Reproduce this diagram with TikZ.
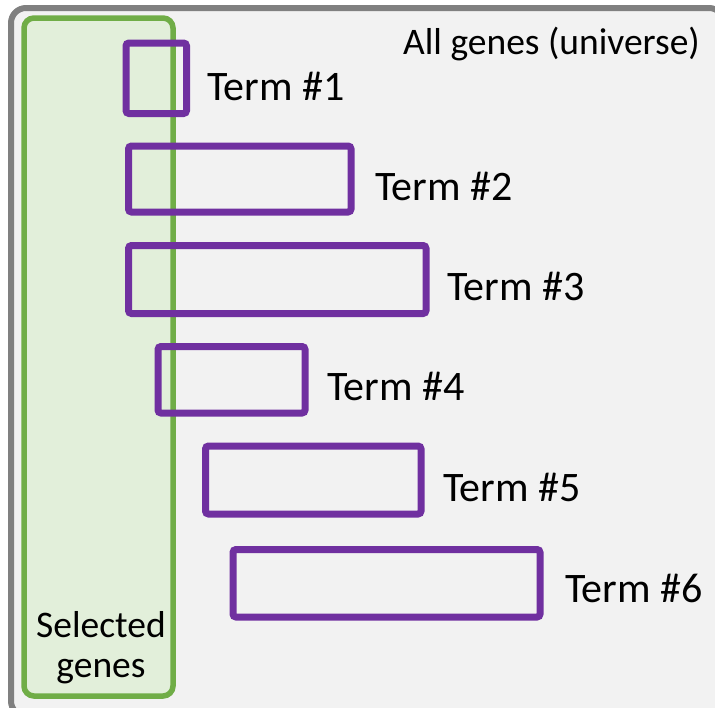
\documentclass[tikz,border=0pt]{standalone}
\usepackage{fontspec}
\setmainfont{Carlito}
\definecolor{univgray}{HTML}{808080}
\definecolor{univfill}{HTML}{F2F2F2}
\definecolor{selgreen}{HTML}{70AD47}
\definecolor{selfill}{HTML}{E2EFDA}
\definecolor{termpurple}{HTML}{7030A0}
\begin{document}
\begin{tikzpicture}[x=1pt,y=-1pt,
  termbox/.style={draw=termpurple,line width=7pt,rounded corners=3pt},
  termlabel/.style={anchor=base west,inner sep=0pt,font=\fontsize{42}{42}\selectfont},
  smalllabel/.style={inner sep=0pt,font=\fontsize{37.5}{40}\selectfont}]
\useasboundingbox (0,0) rectangle (715,707);
\begin{scope}
\clip (0,0) rectangle (715,707);
\draw[draw=univgray,fill=univfill,line width=6pt,rounded corners=15pt] (11,8) rectangle (724,716);
\end{scope}
\draw[draw=selgreen,fill=selfill,line width=5.5pt,rounded corners=10pt] (24,18) rectangle (173,696);
\draw[termbox] (126,43) rectangle (186.5,113.5);
\draw[termbox] (128.5,146) rectangle (351,212);
\draw[termbox] (128.5,245.5) rectangle (426,313.5);
\draw[termbox] (158,346.5) rectangle (305,413);
\draw[termbox] (205.5,446) rectangle (421,514);
\draw[termbox] (233,549.5) rectangle (540,617);
\node[termlabel] (t1) at (207,100) {Term \#1};
\node[termlabel] (t2) at (375,200) {Term \#2};
\node[termlabel] (t3) at (447,300) {Term \#3};
\node[termlabel] (t4) at (327,400) {Term \#4};
\node[termlabel] (t5) at (443,501) {Term \#5};
\node[termlabel] (t6) at (565,602) {Term \#6};
\node[smalllabel,anchor=base east] (univ) at (700,54) {All genes (universe)};
\node[smalllabel,anchor=base] (sel1) at (101,637) {Selected};
\node[smalllabel,anchor=base] (sel2) at (101,677) {genes};
\end{tikzpicture}
\end{document}
